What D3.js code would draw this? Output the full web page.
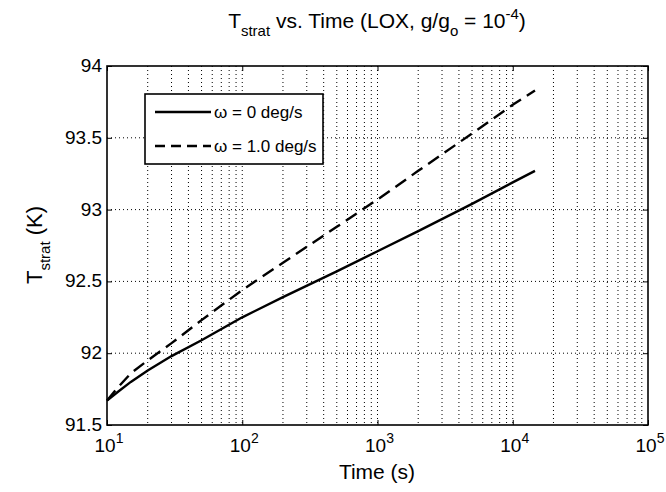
<!DOCTYPE html>
<html>
<head>
<meta charset="utf-8">
<title>Tstrat vs Time</title>
<script src="https://cdn.jsdelivr.net/npm/d3@7"></script>
<style>
  body { margin: 0; background: #fff; }
  svg { font-family: "Liberation Sans", Arial, Helvetica, sans-serif; }
  .grid line { stroke: #000; stroke-width: 1; stroke-dasharray: 1,3; }
</style>
</head>
<body>
<svg id="chart" width="666" height="492"></svg>
<script>
// time (s) and stratified temperature (K)
var time = [10, 12, 15, 20, 30, 50, 100, 200, 500, 1000, 2000, 5000, 10000, 14600];
var tOmega0 = [91.67, 91.73, 91.80, 91.88, 91.98, 92.09, 92.25, 92.39, 92.57, 92.71, 92.85, 93.04, 93.19, 93.27];
var tOmega1 = [91.67, 91.76, 91.86, 91.95, 92.07, 92.23, 92.44, 92.63, 92.88, 93.07, 93.27, 93.53, 93.73, 93.83];
var seriesNames = ["\u03c9 = 0 deg/s", "\u03c9 = 1.0 deg/s"];
var xDecades = [1, 2, 3, 4, 5];
var yTicks = [91.5, 92, 92.5, 93, 93.5, 94];

var svg = d3.select("#chart");
var pLeft = 107, pRight = 648, pTop = 66, pBottom = 425;

var x = d3.scaleLog().domain([10, 1e5]).range([pLeft, pRight]);
var y = d3.scaleLinear().domain([91.5, 94]).range([pBottom, pTop]);

// minor + major x grid
var xGridVals = [];
for (var e = 1; e < 5; e++) {
  for (var m = 1; m < 10; m++) {
    if (e === 1 && m === 1) continue;
    xGridVals.push(m * Math.pow(10, e));
  }
}
var grid = svg.append("g").attr("class", "grid");
grid.selectAll("line.vx").data(xGridVals).enter().append("line")
  .attr("x1", function(d) { return x(d); }).attr("x2", function(d) { return x(d); })
  .attr("y1", pTop).attr("y2", pBottom);
grid.selectAll("line.hy").data(yTicks.slice(1, -1)).enter().append("line")
  .attr("x1", pLeft).attr("x2", pRight)
  .attr("y1", function(d) { return y(d); }).attr("y2", function(d) { return y(d); });

// axes with inward ticks (MATLAB style)
var decadeVals = xDecades.map(function(d) { return Math.pow(10, d); });
svg.append("g").attr("transform", "translate(0," + pBottom + ")")
  .call(d3.axisBottom(x).tickValues(decadeVals).tickSizeInner(-5).tickSizeOuter(0).tickFormat(""));
svg.append("g").attr("transform", "translate(0," + pTop + ")")
  .call(d3.axisTop(x).tickValues(decadeVals).tickSizeInner(-5).tickSizeOuter(0).tickFormat(""));
svg.append("g").attr("transform", "translate(" + pLeft + ",0)")
  .call(d3.axisLeft(y).tickValues(yTicks).tickSizeInner(-5).tickSizeOuter(0).tickFormat(""));
svg.append("g").attr("transform", "translate(" + pRight + ",0)")
  .call(d3.axisRight(y).tickValues(yTicks).tickSizeInner(-5).tickSizeOuter(0).tickFormat(""));
svg.selectAll(".domain").remove();
svg.selectAll(".tick line").attr("stroke", "#000");

svg.append("rect").attr("x", pLeft).attr("y", pTop)
  .attr("width", pRight - pLeft).attr("height", pBottom - pTop)
  .attr("fill", "none").attr("stroke", "#000").attr("stroke-width", 1.6);

// x tick labels 10^n
xDecades.forEach(function(d) {
  var t = svg.append("text").attr("x", x(Math.pow(10, d)) + 2).attr("y", pBottom + 27)
    .attr("text-anchor", "middle").attr("font-size", 19);
  t.append("tspan").text("10");
  t.append("tspan").attr("dy", -9).attr("font-size", 14).text(d);
});

// y tick labels
yTicks.forEach(function(d) {
  svg.append("text").attr("x", pLeft - 5).attr("y", y(d) + 6)
    .attr("text-anchor", "end").attr("font-size", 19).text(d);
});

// lines
var line = d3.line()
  .x(function(d) { return x(d[0]); })
  .y(function(d) { return y(d[1]); });

svg.append("path").datum(d3.zip(time, tOmega0))
  .attr("d", line).attr("fill", "none").attr("stroke", "#000").attr("stroke-width", 2.4);
svg.append("path").datum(d3.zip(time, tOmega1))
  .attr("d", line).attr("fill", "none").attr("stroke", "#000").attr("stroke-width", 2.4)
  .attr("stroke-dasharray", "13,7");

// legend
var lg = svg.append("g");
lg.append("rect").attr("x", 145).attr("y", 94).attr("width", 178).attr("height", 70)
  .attr("fill", "#fff").attr("stroke", "#000").attr("stroke-width", 1.6);
[0, 1].forEach(function(i) {
  var ly = 112 + i * 34;
  lg.append("line").attr("x1", 155).attr("x2", 211).attr("y1", ly).attr("y2", ly)
    .attr("stroke", "#000").attr("stroke-width", 2.4)
    .attr("stroke-dasharray", i === 1 ? "10,6" : null);
  lg.append("text").attr("x", 214).attr("y", ly + 6).attr("font-size", 17)
    .text(seriesNames[i]);
});

// title
var title = svg.append("text").attr("x", 377).attr("y", 28)
  .attr("text-anchor", "middle").attr("font-size", 21);
title.append("tspan").text("T");
title.append("tspan").attr("dy", 8).attr("font-size", 15).text("strat");
title.append("tspan").attr("dy", -8).text(" vs. Time (LOX, g/g");
title.append("tspan").attr("dy", 8).attr("font-size", 15).text("o");
title.append("tspan").attr("dy", -8).text(" = 10");
title.append("tspan").attr("dy", -9).attr("font-size", 15).text("-4");
title.append("tspan").attr("dy", 9).text(")");

// x label
svg.append("text").attr("x", 377).attr("y", 479).attr("text-anchor", "middle")
  .attr("font-size", 21).text("Time (s)");

// y label
var yl = svg.append("text").attr("transform", "translate(42,245) rotate(-90)")
  .attr("text-anchor", "middle").attr("font-size", 22);
yl.append("tspan").text("T");
yl.append("tspan").attr("dy", 8).attr("font-size", 15).text("strat");
yl.append("tspan").attr("dy", -8).text(" (K)");
</script>
</body>
</html>
